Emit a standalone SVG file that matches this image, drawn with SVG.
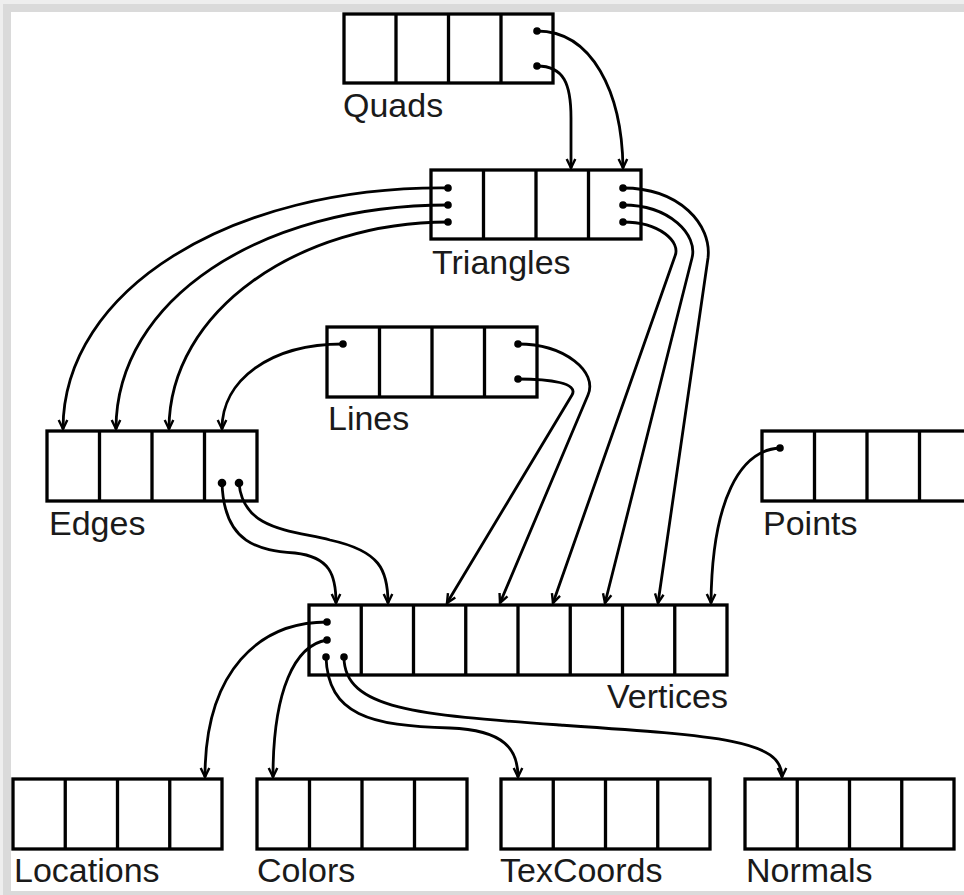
<svg xmlns="http://www.w3.org/2000/svg" width="964" height="895" viewBox="0 0 964 895">
<style>
.box{fill:#fff;stroke:#000;stroke-width:3.3}
.div{stroke:#000;stroke-width:3.3}
.lbl{font-family:"Liberation Sans",Arial,Helvetica,sans-serif;font-size:34px;fill:#1a1a1a}
.con{fill:none;stroke:#000;stroke-width:2.8;marker-end:url(#arr)}
.dot{fill:#000}
</style>
<defs>
<marker id="arr" markerUnits="userSpaceOnUse" markerWidth="16" markerHeight="16" viewBox="-12 -8 16 16" refX="0" refY="0" orient="auto">
<path d="M-9,-4.3 L0,0 L-9,4.3" fill="none" stroke="#000" stroke-width="2.4"/>
</marker>
</defs>
<rect x="0" y="0" width="964" height="895" fill="#eeeeee"/>
<rect x="3" y="4" width="961" height="891" fill="#dadada"/>
<rect x="11" y="12" width="953" height="879" fill="#ffffff"/>

<g id="quads">
<rect class="box" x="344" y="14" width="209" height="69"/>
<path class="div" d="M396,14V83M448.5,14V83M501,14V83"/>
<text class="lbl" x="343" y="117">Quads</text>
</g>
<g id="triangles">
<rect class="box" x="431" y="170" width="210" height="69"/>
<path class="div" d="M483.5,170V239M536,170V239M588.5,170V239"/>
<text class="lbl" x="432" y="274">Triangles</text>
</g>
<g id="lines">
<rect class="box" x="327" y="327" width="210" height="70"/>
<path class="div" d="M379.5,327V397M432,327V397M484.5,327V397"/>
<text class="lbl" x="328" y="430">Lines</text>
</g>
<g id="edges">
<rect class="box" x="47" y="431" width="210" height="70"/>
<path class="div" d="M99.5,431V501M152,431V501M204.5,431V501"/>
<text class="lbl" x="49" y="535">Edges</text>
</g>
<g id="points">
<rect class="box" x="762" y="431" width="210" height="70"/>
<path class="div" d="M814.5,431V501M867,431V501M919.5,431V501"/>
<text class="lbl" x="763" y="535">Points</text>
</g>
<g id="vertices">
<rect class="box" x="309" y="605" width="418" height="70"/>
<path class="div" d="M361.25,605V675M413.5,605V675M465.75,605V675M518,605V675M570.25,605V675M622.5,605V675M674.75,605V675"/>
<text class="lbl" x="607" y="708">Vertices</text>
</g>
<g id="locations">
<rect class="box" x="13" y="779" width="209" height="70"/>
<path class="div" d="M65.25,779V849M117.5,779V849M169.75,779V849"/>
<text class="lbl" x="14" y="882">Locations</text>
</g>
<g id="colors">
<rect class="box" x="257" y="779" width="210" height="70"/>
<path class="div" d="M309.5,779V849M362,779V849M414.5,779V849"/>
<text class="lbl" x="257" y="882">Colors</text>
</g>
<g id="texcoords">
<rect class="box" x="501" y="779" width="209" height="70"/>
<path class="div" d="M553.25,779V849M605.5,779V849M657.75,779V849"/>
<text class="lbl" x="500" y="882">TexCoords</text>
</g>
<g id="normals">
<rect class="box" x="745" y="779" width="209" height="70"/>
<path class="div" d="M797.25,779V849M849.5,779V849M901.75,779V849"/>
<text class="lbl" x="746" y="882">Normals</text>
</g>

<g id="connectors">
<path class="con" d="M537,31 C592,31 622,92 623,168"/>
<path class="con" d="M537,66 C564,66 571,84 571,118 L571,168"/>
<path class="con" d="M448,188 C230,186 63,290 63,429"/>
<path class="con" d="M448,205 C260,205 116,300 116,429"/>
<path class="con" d="M448,222 C300,222 169,310 169,429"/>
<path class="con" d="M343,344 C270,344 222,380 222,429"/>
<path class="con" d="M623,188 C680,188 712,225 708,258 L658,603"/>
<path class="con" d="M623,205 C670,205 698,235 692,258 L605,603"/>
<path class="con" d="M623,222 C660,222 681,242 675,256 L553,603"/>
<path class="con" d="M518,344 C565,344 598,372 588,395 L500,603"/>
<path class="con" d="M518,379 C550,379 579,383 572,395 L447,603"/>
<path class="con" d="M222,483 C224,545 260,550 295,553 C330,557 336,575 336,603"/>
<path class="con" d="M239,483 C243,530 290,530 330,540 C380,551 388,570 388,603"/>
<path class="con" d="M780,448 C740,450 712,500 711,603"/>
<path class="con" d="M327,622 C260,622 205,670 205,777"/>
<path class="con" d="M327,640 C295,645 273,690 273,777"/>
<path class="con" d="M326,657 C328,715 370,726 450,728 C505,730 518,750 518,777"/>
<path class="con" d="M344,657 C344,710 420,715 560,725 C720,736 782,740 782,777"/>
<g class="dot">
<circle cx="537" cy="31" r="3.8"/><circle cx="537" cy="66" r="3.8"/>
<circle cx="448" cy="188" r="3.8"/><circle cx="448" cy="205" r="3.8"/><circle cx="448" cy="222" r="3.8"/>
<circle cx="623" cy="188" r="3.8"/><circle cx="623" cy="205" r="3.8"/><circle cx="623" cy="222" r="3.8"/>
<circle cx="343" cy="344" r="3.8"/><circle cx="518" cy="344" r="3.8"/><circle cx="518" cy="379" r="3.8"/>
<circle cx="222" cy="483" r="4.3"/><circle cx="239" cy="483" r="4.3"/>
<circle cx="780" cy="448" r="3.8"/>
<circle cx="327" cy="622" r="3.8"/><circle cx="327" cy="640" r="3.8"/><circle cx="326" cy="657" r="3.8"/><circle cx="344" cy="657" r="3.8"/>
</g>
</g>
</svg>
